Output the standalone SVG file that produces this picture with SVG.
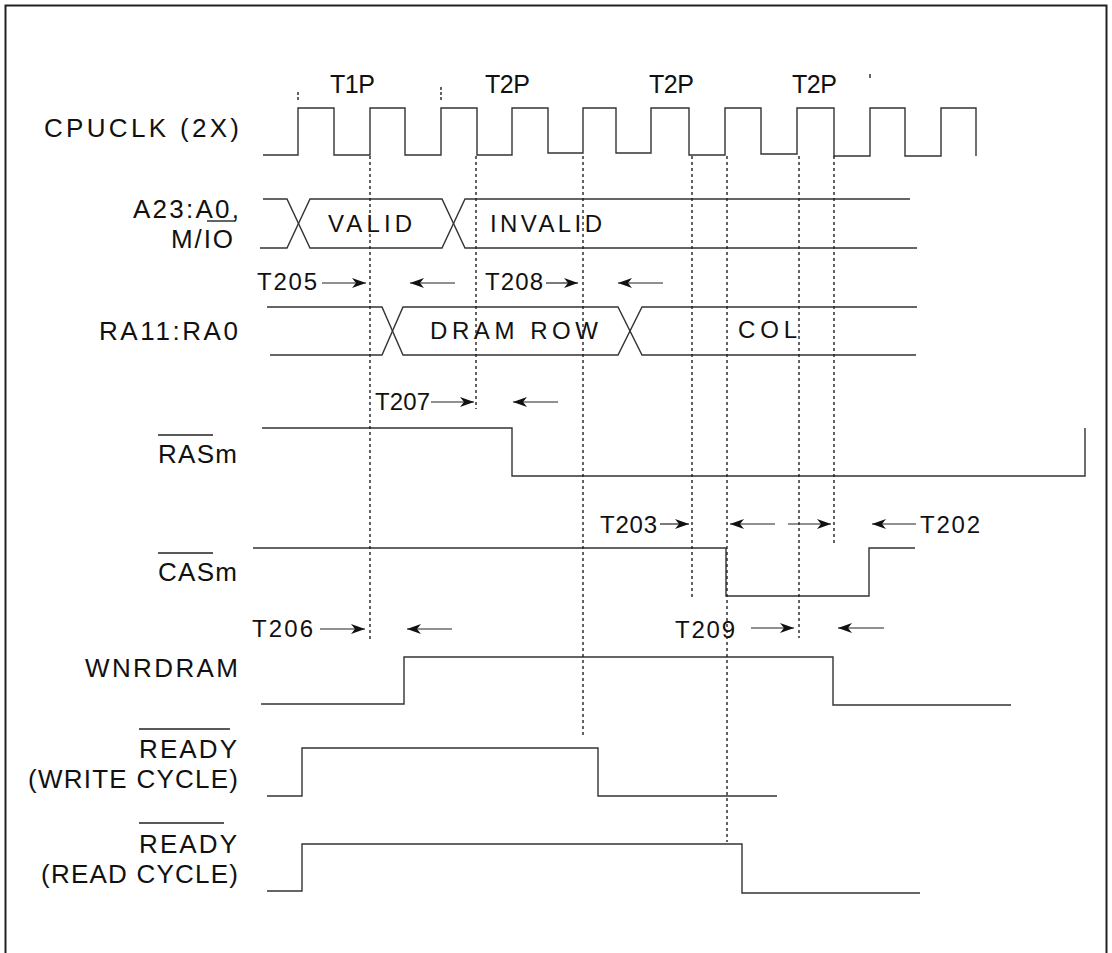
<svg xmlns="http://www.w3.org/2000/svg" width="1112" height="953" viewBox="0 0 1112 953">
<style>
.sig{fill:none;stroke:#333;stroke-width:1.4}
.dash{fill:none;stroke:#222;stroke-width:1.4;stroke-dasharray:3 3}
.arr{fill:none;stroke:#222;stroke-width:1.2}
.lbl{font-family:"Liberation Sans",Arial,sans-serif;font-size:26px;fill:#111}
.t{font-family:"Liberation Sans",Arial,sans-serif;font-size:24px;fill:#111}
.ph{font-family:"Liberation Sans",Arial,sans-serif;font-size:25px;fill:#111}
.ov{stroke:#222;stroke-width:1.4}
</style>
<defs>
<marker id="ah" viewBox="-15 -6 16 12" refX="0" refY="0" markerWidth="16" markerHeight="12" markerUnits="userSpaceOnUse" orient="auto">
<path d="M0,0 L-14,-5 L-10,0 L-14,5 Z" fill="#111"/>
</marker>
</defs>
<rect width="1112" height="953" fill="#fff"/>
<path d="M5.5,953 V5.5 H1106.5 V953" fill="none" stroke="#222" stroke-width="2"/>

<g id="phases">
<text class="ph" x="330" y="93" textLength="45">T1P</text>
<text class="ph" x="485" y="93" textLength="45">T2P</text>
<text class="ph" x="649" y="93" textLength="45">T2P</text>
<text class="ph" x="792" y="93" textLength="45">T2P</text>
<line class="ov" x1="298" y1="92" x2="298" y2="102" stroke-dasharray="3 2"/>
<line class="ov" x1="441" y1="87" x2="441" y2="101" stroke-dasharray="3 2"/>
<line class="ov" x1="870" y1="74" x2="870" y2="78"/>
</g>

<g id="cpuclk">
<text class="lbl" x="44" y="137" textLength="195">CPUCLK (2X)</text>
<path class="sig" d="M263,155 H298 V108 H334 V155 H370 V108 H405 V155 H441 V108 H477 V155 H512 V108 H548 V153 H583 V108 H616 V153 H651 V108 H689 V155 H725 V108 H761 V154 H797 V108 H834 V156 H870 V108 H905 V156 H941 V108 H976 V156"/>
</g>

<g id="addr">
<text class="lbl" x="133" y="218" textLength="106">A23:A0,</text>
<text class="lbl" x="171" y="248" textLength="62">M/IO</text>
<line class="ov" x1="207" y1="221" x2="235" y2="221"/>
<path class="sig" d="M263,199 H287 L310,248 H442 L465,199 H910"/>
<path class="sig" d="M260,248 H287 L310,199 H442 L465,248 H917"/>
<text class="t" x="328" y="232" textLength="84">VALID</text>
<text class="t" x="490" y="232" textLength="112">INVALID</text>
</g>

<g id="ra">
<text class="lbl" x="99" y="340" textLength="139">RA11:RA0</text>
<path class="sig" d="M267,307 H382 L403,355 H618 L642,307 H917"/>
<path class="sig" d="M270,355 H382 L403,307 H618 L642,355 H916"/>
<text class="t" x="430" y="339" textLength="168">DRAM ROW</text>
<text class="t" x="738" y="338" textLength="59">COL</text>
</g>

<g id="ras">
<text class="lbl" x="158" y="463" textLength="79">RASm</text>
<line class="ov" x1="158" y1="435" x2="213" y2="435"/>
<path class="sig" d="M262,428 H512 V476 H1085 V428"/>
</g>

<g id="cas">
<text class="lbl" x="158" y="581" textLength="79">CASm</text>
<line class="ov" x1="158" y1="553" x2="213" y2="553"/>
<path class="sig" d="M253,548 H726 V596 H869 V548 H915"/>
</g>

<g id="wnrdram">
<text class="lbl" x="85" y="677" textLength="153">WNRDRAM</text>
<path class="sig" d="M261,704 H404 V657 H833 V705 H1011"/>
</g>

<g id="ready-write">
<text class="lbl" x="139" y="758" textLength="98">READY</text>
<line class="ov" x1="139" y1="729" x2="230" y2="729"/>
<text class="lbl" x="28" y="788" textLength="210">(WRITE CYCLE)</text>
<path class="sig" d="M267,796 H302 V748 H598 V796 H777"/>
</g>

<g id="ready-read">
<text class="lbl" x="139" y="853" textLength="98">READY</text>
<line class="ov" x1="139" y1="823" x2="224" y2="823"/>
<text class="lbl" x="41" y="883" textLength="197">(READ CYCLE)</text>
<path class="sig" d="M267,891 H302 V844 H742 V893 H920"/>
</g>

<g id="timing-labels">
<text class="t" x="257" y="290" textLength="60">T205</text>
<text class="t" x="485" y="290" textLength="58">T208</text>
<text class="t" x="375" y="410" textLength="55">T207</text>
<text class="t" x="600" y="533" textLength="57">T203</text>
<text class="t" x="920" y="533" textLength="60">T202</text>
<text class="t" x="252" y="637" textLength="61">T206</text>
<text class="t" x="675" y="638" textLength="60">T209</text>
</g>

<g id="connectors">
<line class="dash" x1="370" y1="156" x2="370" y2="642"/>
<line class="dash" x1="476" y1="156" x2="476" y2="409"/>
<line class="dash" x1="583" y1="156" x2="583" y2="738"/>
<line class="dash" x1="692" y1="156" x2="692" y2="597"/>
<line class="dash" x1="727" y1="156" x2="727" y2="842"/>
<line class="dash" x1="799" y1="156" x2="799" y2="638"/>
<line class="dash" x1="834" y1="156" x2="834" y2="545"/>
<line class="arr" x1="322" y1="283" x2="366" y2="283" marker-end="url(#ah)"/>
<line class="arr" x1="455" y1="283" x2="410" y2="283" marker-end="url(#ah)"/>
<line class="arr" x1="546" y1="283" x2="578" y2="283" marker-end="url(#ah)"/>
<line class="arr" x1="663" y1="283" x2="618" y2="283" marker-end="url(#ah)"/>
<line class="arr" x1="431" y1="402" x2="474" y2="402" marker-end="url(#ah)"/>
<line class="arr" x1="558" y1="402" x2="513" y2="402" marker-end="url(#ah)"/>
<line class="arr" x1="660" y1="524" x2="689" y2="524" marker-end="url(#ah)"/>
<line class="arr" x1="775" y1="524" x2="730" y2="524" marker-end="url(#ah)"/>
<line class="arr" x1="788" y1="524" x2="831" y2="524" marker-end="url(#ah)"/>
<line class="arr" x1="916" y1="524" x2="872" y2="524" marker-end="url(#ah)"/>
<line class="arr" x1="320" y1="629" x2="365" y2="629" marker-end="url(#ah)"/>
<line class="arr" x1="452" y1="629" x2="407" y2="629" marker-end="url(#ah)"/>
<line class="arr" x1="751" y1="628" x2="794" y2="628" marker-end="url(#ah)"/>
<line class="arr" x1="884" y1="628" x2="838" y2="628" marker-end="url(#ah)"/>
</g>
</svg>
